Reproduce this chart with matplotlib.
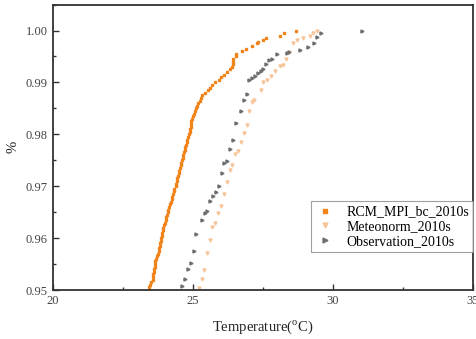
import matplotlib
matplotlib.use("Agg")
import matplotlib.pyplot as plt
from matplotlib.ticker import MultipleLocator

plt.rcParams['font.family'] = ['Liberation Serif', 'DejaVu Serif']
plt.rcParams['mathtext.fontset'] = 'custom'
plt.rcParams['mathtext.rm'] = 'Liberation Serif'

# RCM_MPI_bc_2010s
rcm_temp = [23.42, 23.44, 23.47, 23.52, 23.56, 23.57, 23.59, 23.61, 23.62, 23.63,
            23.64, 23.66, 23.68, 23.72, 23.76, 23.78, 23.80, 23.81, 23.82, 23.85,
            23.86, 23.88, 23.90, 23.92, 23.94, 23.98, 24.01, 24.03, 24.05, 24.08,
            24.10, 24.12, 24.15, 24.19, 24.22, 24.25, 24.27, 24.30, 24.32, 24.34,
            24.38, 24.40, 24.42, 24.45, 24.47, 24.49, 24.51, 24.54, 24.57, 24.59,
            24.62, 24.64, 24.66, 24.69, 24.71, 24.73, 24.76, 24.79, 24.80, 24.83,
            24.86, 24.89, 24.90, 24.92, 24.93, 24.95, 24.97, 25.00, 25.04, 25.09,
            25.12, 25.16, 25.20, 25.25, 25.28, 25.33, 25.45, 25.55, 25.62, 25.67,
            25.80, 25.93, 26.02, 26.10, 26.20, 26.33, 26.38, 26.42, 26.42, 26.43,
            26.54, 26.54, 26.76, 26.89, 27.10, 27.30, 27.33, 27.51, 27.60, 28.12,
            28.26, 28.67]
rcm_prob = [0.9500, 0.9505, 0.9510, 0.9515, 0.9520, 0.9525, 0.9530, 0.9535, 0.9540, 0.9545,
            0.9550, 0.9555, 0.9560, 0.9565, 0.9570, 0.9575, 0.9580, 0.9585, 0.9590, 0.9595,
            0.9600, 0.9605, 0.9610, 0.9615, 0.9620, 0.9625, 0.9630, 0.9635, 0.9640, 0.9645,
            0.9650, 0.9655, 0.9660, 0.9665, 0.9670, 0.9675, 0.9680, 0.9685, 0.9690, 0.9695,
            0.9700, 0.9705, 0.9710, 0.9715, 0.9720, 0.9725, 0.9730, 0.9735, 0.9740, 0.9745,
            0.9750, 0.9755, 0.9760, 0.9765, 0.9770, 0.9775, 0.9780, 0.9785, 0.9790, 0.9795,
            0.9800, 0.9805, 0.9810, 0.9815, 0.9820, 0.9825, 0.9830, 0.9835, 0.9840, 0.9845,
            0.9850, 0.9855, 0.9860, 0.9865, 0.9870, 0.9875, 0.9880, 0.9885, 0.9890, 0.9895,
            0.9900, 0.9905, 0.9910, 0.9915, 0.9920, 0.9925, 0.9930, 0.9935, 0.9940, 0.9945,
            0.9950, 0.9955, 0.9960, 0.9965, 0.9970, 0.9975, 0.9978, 0.9982, 0.9986, 0.9990,
            0.9995, 1.0000]

# Meteonorm_2010s
met_temp = [25.21, 25.31, 25.40, 25.50, 25.61, 25.69, 25.80, 25.90, 26.00, 26.11,
            26.20, 26.32, 26.39, 26.51, 26.61, 26.70, 26.82, 26.92, 27.00, 27.10,
            27.19, 27.42, 27.51, 27.63, 27.78, 27.93, 28.11, 28.20, 28.32, 28.44,
            28.58, 28.72, 28.92, 29.18, 29.30, 29.42]
met_prob = [0.9503, 0.9521, 0.9538, 0.9572, 0.9597, 0.9622, 0.9630, 0.9648, 0.9662, 0.9685,
            0.9708, 0.9732, 0.9740, 0.9763, 0.9767, 0.9785, 0.9803, 0.9817, 0.9844, 0.9863,
            0.9867, 0.9886, 0.9901, 0.9904, 0.9913, 0.9922, 0.9931, 0.9934, 0.9946, 0.9958,
            0.9976, 0.9981, 0.9986, 0.9990, 0.9995, 1.0000]

# Observation_2010s
obs_temp = [24.62, 24.71, 24.83, 24.93, 25.04, 25.12, 25.32, 25.44, 25.51, 25.61,
            25.73, 25.82, 25.93, 26.03, 26.12, 26.20, 26.32, 26.44, 26.53, 26.70,
            26.82, 26.92, 27.01, 27.10, 27.21, 27.33, 27.42, 27.51, 27.61, 27.71,
            27.81, 28.01, 28.35, 28.44, 28.82, 29.12, 29.33, 29.42, 29.59, 31.03]
obs_prob = [0.9508, 0.9521, 0.9540, 0.9553, 0.9575, 0.9608, 0.9635, 0.9649, 0.9653, 0.9671,
            0.9681, 0.9689, 0.9700, 0.9726, 0.9745, 0.9749, 0.9771, 0.9790, 0.9822, 0.9845,
            0.9867, 0.9877, 0.9904, 0.9909, 0.9913, 0.9918, 0.9922, 0.9926, 0.9936, 0.9944,
            0.9946, 0.9955, 0.9957, 0.9958, 0.9963, 0.9968, 0.9976, 0.9987, 0.9995, 1.0000]

labels = ["RCM_MPI_bc_2010s", "Meteonorm_2010s", "Observation_2010s"]

fig = plt.figure(figsize=(4.76, 3.39), dpi=100)
ax = fig.add_axes([0.111, 0.1445, 0.8827, 0.842])

ax.plot(rcm_temp, rcm_prob, linestyle='none', marker='s', ms=1.6,
        color='#F0841A', mec='#F0841A', label=labels[0])
ax.plot(met_temp, met_prob, linestyle='none', marker='v', ms=2.2,
        color='#F7C59A', mec='#F7C59A', label=labels[1])
ax.plot(obs_temp, obs_prob, linestyle='none', marker='>', ms=2.2,
        color='#6E6E6E', mec='#6E6E6E', label=labels[2])

ax.set_xlim(20, 35)
ax.set_ylim(0.95, 1.005)
ax.xaxis.set_major_locator(MultipleLocator(5))
ax.xaxis.set_minor_locator(MultipleLocator(2.5))
ax.yaxis.set_major_locator(MultipleLocator(0.01))
ax.yaxis.set_minor_locator(MultipleLocator(0.005))
ax.yaxis.set_major_formatter(plt.FuncFormatter(lambda v, p: f"{v:.2f}"))

for s in ax.spines.values():
    s.set_linewidth(1.3)
    s.set_color('#333333')
ax.tick_params(which='both', direction='in', top=False, right=False,
               labelsize=9, labelcolor='#444444', color='#333333')
ax.tick_params(which='major', length=4, width=1)
ax.tick_params(which='minor', length=2, width=1)

ax.set_xlabel(r"Temperature($^{\mathrm{o}}$C)", fontsize=10.5, color='#222222', labelpad=8)
ax.set_ylabel("%", fontsize=10.5, color='#222222')
ax.yaxis.set_label_coords(-0.08, 0.5)

leg = ax.legend(loc='lower right', bbox_to_anchor=(1.0, 0.133), fontsize=10,
                frameon=True, fancybox=False, edgecolor='#888888',
                handletextpad=0.9, borderpad=0.3, labelspacing=0.12,
                handlelength=1.3, markerscale=1.6, borderaxespad=0)
leg.get_frame().set_linewidth(0.8)

fig.savefig("out.png", dpi=100)
